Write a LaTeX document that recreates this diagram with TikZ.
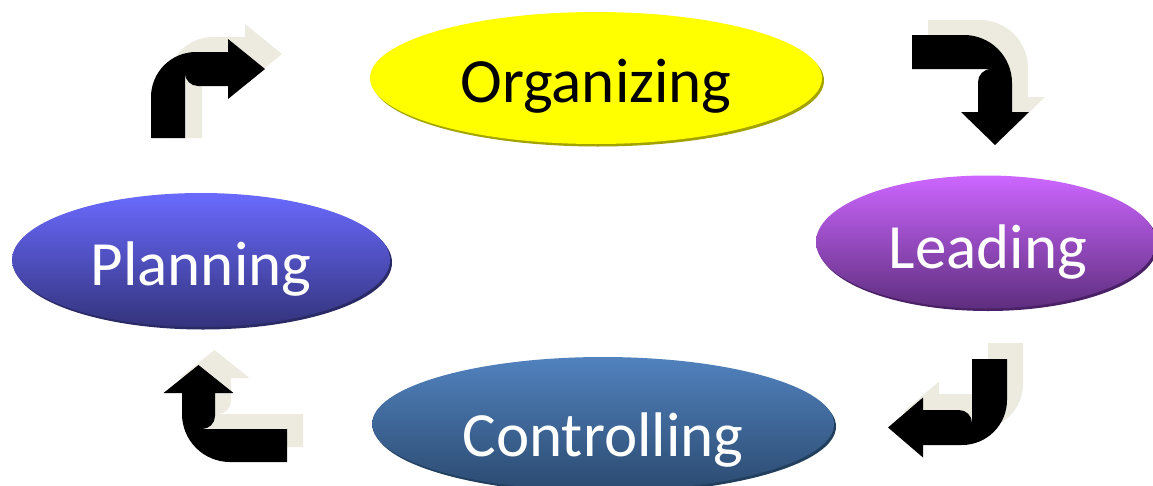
\documentclass[tikz,border=0pt]{standalone}
\usepackage{fontspec}
\setmainfont{Carlito}
\usetikzlibrary{shapes.geometric,shadows}

\definecolor{beige}{HTML}{EDEAE0}
\definecolor{orgfill}{HTML}{FFFF00}
\definecolor{orgrim}{HTML}{A3A300}
\definecolor{plantop}{HTML}{6A6AFF}
\definecolor{planbot}{HTML}{33337C}
\definecolor{planrim}{HTML}{2A2A66}
\definecolor{leadtop}{HTML}{CC66FF}
\definecolor{leadbot}{HTML}{5E2E7E}
\definecolor{leadrim}{HTML}{4A2066}
\definecolor{ctrltop}{HTML}{5182BE}
\definecolor{ctrlbot}{HTML}{2B4A70}
\definecolor{ctrlrim}{HTML}{22405E}

% Bent block arrow, drawn heading north then turning east (clockwise).
% #1 options (placement), #2 stem length to outer edge, #3 band width,
% #4 head base, #5 tip, #6 half head width, #7 outer radius, #8 inner radius
\newcommand{\bentarrow}[8]{%
  \fill[#1] (0pt,0pt) -- (0pt,{#2pt-#7pt})
    arc[start angle=180,end angle=90,radius=#7pt]
    -- (#4pt,#2pt) -- (#4pt,{#2pt-#3pt/2+#6pt}) -- (#5pt,{#2pt-#3pt/2})
    -- (#4pt,{#2pt-#3pt/2-#6pt}) -- (#4pt,{#2pt-#3pt})
    -- ({#3pt+#8pt},{#2pt-#3pt})
    arc[start angle=270,end angle=180,radius=#8pt]
    -- (#3pt,0pt) -- cycle;}

\tikzset{
  stage/.style={ellipse, inner sep=0pt, minimum width=#1},
  stage/.default=400pt,
  stagetext/.style={anchor=base, font=\fontsize{63}{70}\selectfont},
  arrowshadow/.style={fill=beige},
  arrowbody/.style={fill=black},
}

\begin{document}
\begin{tikzpicture}[x=1pt,y=1pt]
  \useasboundingbox (0,0) rectangle (1153,-485);
  \clip (0,0) rectangle (1153,-485);

  % stages
  \node[stage=452pt, minimum height=132pt, fill=orgfill,
        drop shadow={shadow xshift=2pt, shadow yshift=-2.5pt, fill=orgrim, opacity=1}]
        (org) at (596,-78) {};
  \node[stagetext, text=black] (orgtext) at (596,-102) {Organizing};

  \node[stage=378pt, minimum height=134pt, top color=plantop, bottom color=planbot,
        drop shadow={shadow xshift=2pt, shadow yshift=-2.5pt, fill=planrim, opacity=1}]
        (plan) at (201,-260) {};
  \node[stagetext, text=white] (plantext) at (201,-285) {Planning};

  \node[stage=340pt, minimum height=133pt, top color=leadtop, bottom color=leadbot,
        drop shadow={shadow xshift=2pt, shadow yshift=-2.5pt, fill=leadrim, opacity=1}]
        (lead) at (986,-242) {};
  \node[stagetext, text=white] (leadtext) at (988,-268) {Leading};

  \node[stage=462pt, minimum height=134pt, top color=ctrltop, bottom color=ctrlbot,
        drop shadow={shadow xshift=2pt, shadow yshift=-2.5pt, fill=ctrlrim, opacity=1}]
        (ctrl) at (603,-424) {};
  \node[stagetext, text=white] (ctrltext) at (603,-456) {Controlling};

  % arrow shadows
  \bentarrow{arrowshadow, shift={(168,-138)}}{101}{34}{77}{114}{30}{45}{13}
  \bentarrow{arrowshadow, shift={(928,-20)}, rotate=-90}{100}{34}{77}{110}{34}{48}{13}
  \bentarrow{arrowshadow, shift={(1023,-343)}, rotate=180}{86}{35}{84}{119}{30}{45}{13}
  \bentarrow{arrowshadow, shift={(303,-447)}, rotate=90}{105}{33}{69}{97}{35}{48}{13}

  % arrows
  \bentarrow{arrowbody, shift={(151,-138)}}{86}{34}{77}{114}{30}{45}{13}
  \bentarrow{arrowbody, shift={(912,-35)}, rotate=-90}{100}{34}{77}{110}{34}{48}{13}
  \bentarrow{arrowbody, shift={(1007,-359)}, rotate=180}{86}{35}{84}{119}{30}{45}{13}
  \bentarrow{arrowbody, shift={(287,-462)}, rotate=90}{105}{33}{69}{97}{35}{48}{13}
\end{tikzpicture}
\end{document}
